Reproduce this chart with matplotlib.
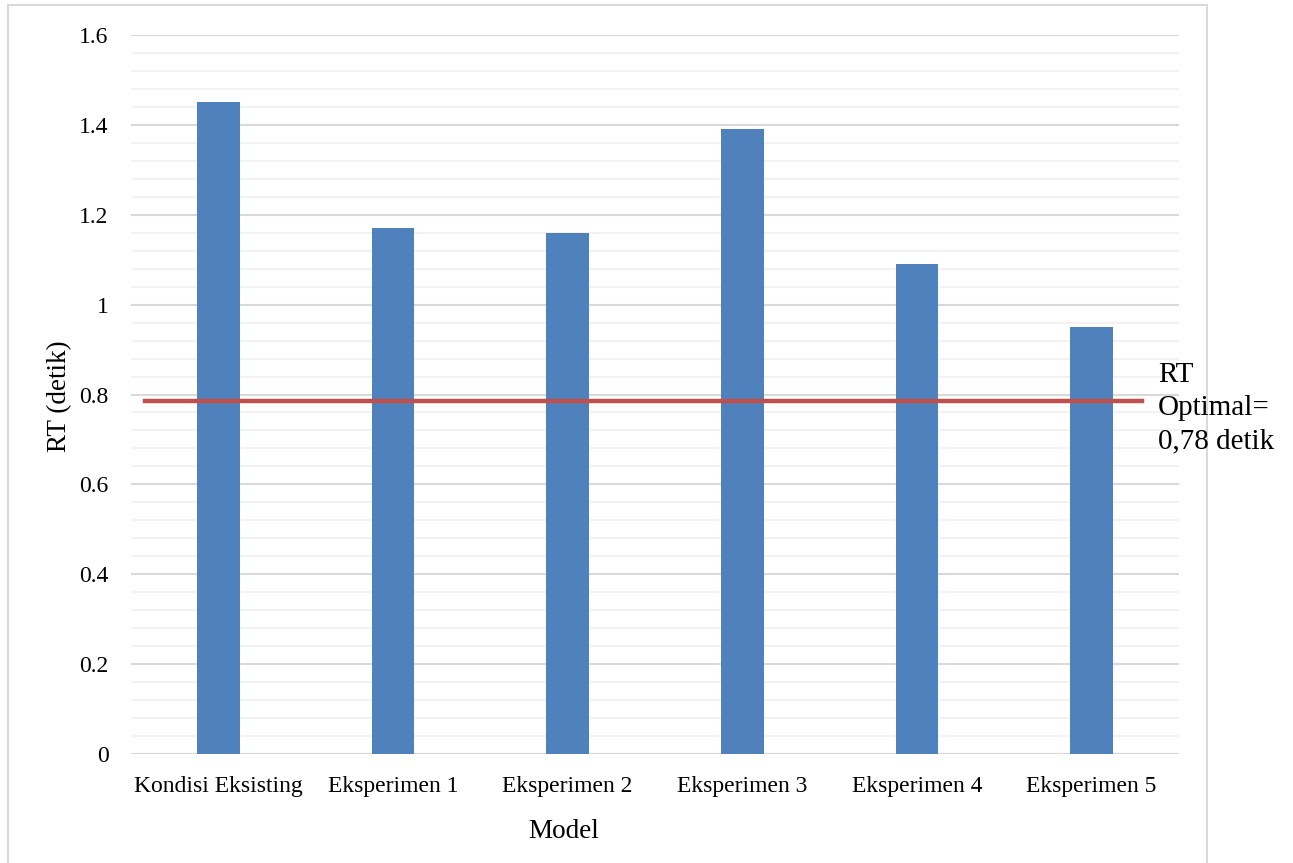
import matplotlib.pyplot as plt
import numpy as np
from matplotlib.patches import Rectangle

categories = ['Kondisi Eksisting', 'Eksperimen 1', 'Eksperimen 2',
              'Eksperimen 3', 'Eksperimen 4', 'Eksperimen 5']
rt_values = [1.45, 1.17, 1.16, 1.39, 1.09, 0.95]
rt_optimal = 0.785
optimal_label = 'RT\nOptimal=\n0,78 detik'

plt.rcParams['font.family'] = ['Liberation Serif', 'DejaVu Serif']

fig = plt.figure(figsize=(12.93, 8.63), dpi=100)
W, H = 1293, 863
ax = fig.add_axes([131 / W, 1 - 754 / H, (1179 - 131) / W, (754 - 35) / H])

# chart frame
fig.patches.append(Rectangle((8 / W, -0.01), (1207 - 8) / W, 1 - 5 / H + 0.01,
                             transform=fig.transFigure, fill=False,
                             edgecolor='#d9d9d9', linewidth=1.5))

x = np.arange(len(categories))
ax.bar(x, rt_values, width=0.246, color='#4f81bd', zorder=3)
ax.plot([-0.42, 5.29], [rt_optimal, rt_optimal], color='#c0504d', linewidth=3.2, zorder=4)

ax.set_xlim(-0.5, len(categories) - 0.5)
ax.set_ylim(0, 1.6)
ax.set_yticks(np.arange(0, 1.61, 0.2))
ax.set_yticklabels(['0', '0.2', '0.4', '0.6', '0.8', '1', '1.2', '1.4', '1.6'])
ax.set_yticks(np.arange(0, 1.61, 0.04), minor=True)
ax.set_xticks(x)
ax.set_xticklabels(categories)

ax.grid(axis='y', which='major', color='#d9d9d9', linewidth=1.5, zorder=0)
ax.grid(axis='y', which='minor', color='#f2f2f2', linewidth=1.5, zorder=0)
for s in ax.spines.values():
    s.set_visible(False)
ax.axhline(0, color='#d9d9d9', linewidth=1.5, zorder=2)
ax.tick_params(axis='both', which='both', length=0, labelsize=17)
ax.tick_params(axis='y', pad=16)
ax.tick_params(axis='x', pad=16)

fig.text(60 / W, 1 - 396 / H, 'RT (detik)', fontsize=19.5, rotation=90,
         ha='center', va='center')
fig.text(564 / W, 1 - 831 / H, 'Model', fontsize=19.5, ha='center', va='center')

fig.text(1158 / W, 1 - 362 / H, optimal_label, fontsize=21, va='top',
         ha='left', linespacing=1.36)

fig.savefig('out.png', dpi=100)
